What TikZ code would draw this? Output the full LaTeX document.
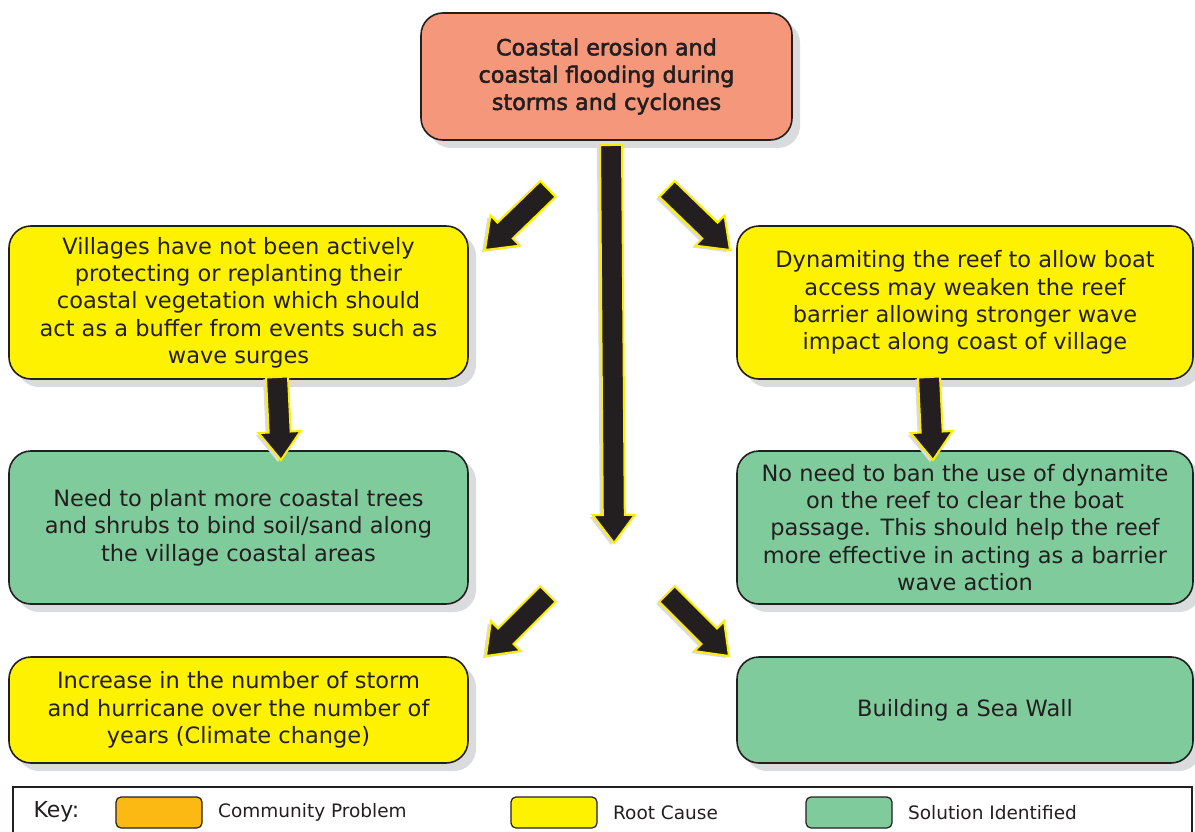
\documentclass[tikz,border=0pt]{standalone}
\usepackage{fontspec}
\setmainfont{DejaVu Sans}
\newfontfamily\headfont[FakeBold=2.2]{DejaVu Sans}
\usetikzlibrary{calc,shadows,positioning}

\definecolor{problemred}{HTML}{F5977B}
\definecolor{causeyellow}{HTML}{FFF200}
\definecolor{solutiongreen}{HTML}{80CB9C}
\definecolor{keyorange}{HTML}{FDB913}
\definecolor{shadowgray}{HTML}{DADBDC}
\definecolor{inkdark}{HTML}{231F20}
\definecolor{arrowyellow}{HTML}{FFEC00}

% block arrow from tail #1 to tip #2
\newcommand{\blockarrow}[2]{%
  \coordinate (neck) at ($(#2)!28pt!(#1)$);
  \filldraw[arrowbody]
    ($(#1)!11pt!90:(#2)$) -- ($(neck)!11pt!90:(#2)$) -- ($(neck)!21pt!90:(#2)$)
    -- (#2)
    -- ($(neck)!21pt!-90:(#2)$) -- ($(neck)!11pt!-90:(#2)$) -- ($(#1)!11pt!-90:(#2)$)
    -- cycle;
}

\begin{document}
\begin{tikzpicture}[
    x=1pt, y=-1pt,
    box/.style={
        rectangle,
        rounded corners=22pt,
        draw=inkdark,
        line width=1.6pt,
        align=center,
        text=inkdark,
        inner sep=0pt,
        font=\fontsize{22.5}{27.3}\selectfont,
        drop shadow={shadow xshift=8pt, shadow yshift=-8pt, fill=shadowgray, opacity=1}
    },
    widebox/.style={box, minimum width=459pt, minimum height=153pt},
    lowbox/.style={box, minimum width=459pt, minimum height=106pt},
    arrowbody/.style={
        fill=inkdark,
        draw=arrowyellow,
        line width=2pt,
        line join=miter,
        drop shadow={shadow xshift=-3pt, shadow yshift=-2pt, fill=shadowgray, opacity=1}
    },
    swatch/.style={
        rectangle,
        rounded corners=5pt,
        draw=inkdark,
        line width=1.2pt,
        minimum width=86pt,
        minimum height=31pt
    },
    keylabel/.style={anchor=west, text=inkdark, font=\fontsize{18.5}{22}\selectfont}
]
\useasboundingbox (0,0) rectangle (1195,832);

% community problem
\node[box, fill=problemred, minimum width=371pt, minimum height=127pt,
      font=\headfont\fontsize{22.3}{27.3}\selectfont] (problem) at (606.5,76.5)
    {Coastal erosion and\\coastal flooding during\\storms and cyclones};

% root causes and solutions
\node[widebox, fill=causeyellow] (vegetation) at (238.5,302.5)
    {Villages have not been actively\\protecting or replanting their\\coastal vegetation which should\\act as a buffer from events such as\\wave surges};
\node[widebox, fill=causeyellow, minimum width=456pt] (dynamite) at (965,302.5)
    {Dynamiting the reef to allow boat\\access may weaken the reef\\barrier allowing stronger wave\\impact along coast of village};
\node[widebox, fill=solutiongreen] (planting) at (238.5,527.5)
    {Need to plant more coastal trees\\and shrubs to bind soil/sand along\\the village coastal areas};
\node[widebox, fill=solutiongreen, minimum width=456pt] (ban) at (965,527.5)
    {No need to ban the use of dynamite\\on the reef to clear the boat\\passage. This should help the reef\\more effective in acting as a barrier\\wave action};
\node[lowbox, fill=causeyellow] (climate) at (238.5,710)
    {Increase in the number of storm\\and hurricane over the number of\\years (Climate change)};
\node[lowbox, fill=solutiongreen, minimum width=456pt] (seawall) at (965,710)
    {Building a Sea Wall};

% arrow ends
\coordinate (mainTail) at (611,145);
\coordinate (mainTip) at (614,543);
\coordinate (ulTail) at (548,189);
\coordinate (ulTip) at (485,250);
\coordinate (urTail) at (667,189);
\coordinate (urTip) at (730,250);
\coordinate (lvTail) at (277,377);
\coordinate (lvTip) at (281,460);
\coordinate (rvTail) at (929,377);
\coordinate (rvTip) at (933,460);
\coordinate (llTail) at (548,594);
\coordinate (llTip) at (486,656);
\coordinate (lrTail) at (667,594);
\coordinate (lrTip) at (729,656);

\blockarrow{mainTail}{mainTip}
\blockarrow{ulTail}{ulTip}
\blockarrow{urTail}{urTip}
\blockarrow{lvTail}{lvTip}
\blockarrow{rvTail}{rvTip}
\blockarrow{llTail}{llTip}
\blockarrow{lrTail}{lrTip}

% key
\draw[inkdark, line width=1.2pt] (13,787) rectangle (1192,845);
\node[anchor=west, text=inkdark, font=\fontsize{22}{26}\selectfont] (keytitle) at (30,812) {Key:};
\node[swatch, fill=keyorange] (keyproblem) at (159,812.5) {};
\node[keylabel, right=12pt of keyproblem] (problemlabel) {Community Problem};
\node[swatch, fill=causeyellow] (keycause) at (554,812.5) {};
\node[keylabel, right=12pt of keycause] (causelabel) {Root Cause};
\node[swatch, fill=solutiongreen] (keysolution) at (849,812.5) {};
\node[keylabel, right=12pt of keysolution] (solutionlabel) {Solution Identified};
\end{tikzpicture}
\end{document}
